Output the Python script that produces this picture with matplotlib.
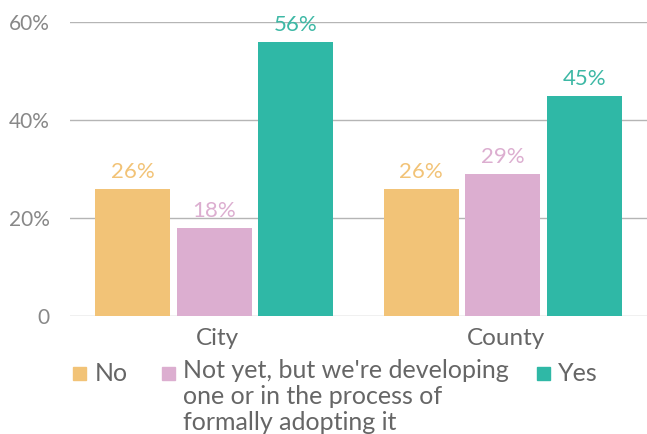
from matplotlib import pyplot as plt
from matplotlib.patches import Rectangle
import numpy as np

plt.rcParams['font.family'] = ['Lato', 'DejaVu Sans']

categories = ['City', 'County']
series_names = ['No', "Not yet, but we're developing\none or in the process of\nformally adopting it", 'Yes']
no_vals = [26, 26]
notyet_vals = [18, 29]
yes_vals = [56, 45]
yticks = [0, 20, 40, 60]
ytick_labels = ['0', '20%', '40%', '60%']

colors = ['#F2C377', '#DCAED0', '#2FB8A6']
label_colors = ['#F2C377', '#DCAED0', '#3DB8A5']

fig = plt.figure(figsize=(6.47, 4.34), dpi=100)
ax = fig.add_axes([0.108, 0.272, 0.892, 0.677])

x = np.arange(len(categories))
width = 0.26
step = 0.282
for i, vals in enumerate([no_vals, notyet_vals, yes_vals]):
    pos = x + (i - 1) * step
    ax.bar(pos, vals, width, color=colors[i], zorder=3)
    for p, v in zip(pos, vals):
        ax.text(p, v + 2.25, '%d%%' % v, ha='center', va='baseline',
                fontsize=16, color=label_colors[i], zorder=4, clip_on=False)

ax.set_xlim(-0.5, 1.5)
ax.set_ylim(0, 60)
ax.set_yticks(yticks)
ax.set_yticklabels(ytick_labels, fontsize=15, color='#888888')
ax.set_xticks(x + 0.012)
ax.set_xticklabels(categories, fontsize=17.5, color='#666666')
ax.tick_params(axis='both', length=0)
ax.tick_params(axis='y', pad=14.5)
ax.tick_params(axis='x', pad=9)
ax.grid(axis='y', color='#B5B5B5', linewidth=1, zorder=0)
for s in ax.spines.values():
    s.set_visible(False)

# legend drawn by hand so handles sit on the first line
# (va='baseline' on multi-line text uses the last line, so shift by line count)
W, H = 647, 434
handle_x = [73, 162, 537]
text_x = [95, 183, 558]
first_baseline = 381
line_pitch = 24.5
for hx, tx, name, c in zip(handle_x, text_x, series_names, colors):
    fig.patches.append(Rectangle((hx / W, 1 - 380 / H), 13 / W, 13 / H,
                                 transform=fig.transFigure, color=c))
    nlines = name.count('\n') + 1
    by = first_baseline + (nlines - 1) * line_pitch
    fig.text(tx / W, 1 - by / H, name, fontsize=18, color='#666666',
             ha='left', va='baseline', linespacing=1.16)

fig.savefig('out.png', dpi=100)
